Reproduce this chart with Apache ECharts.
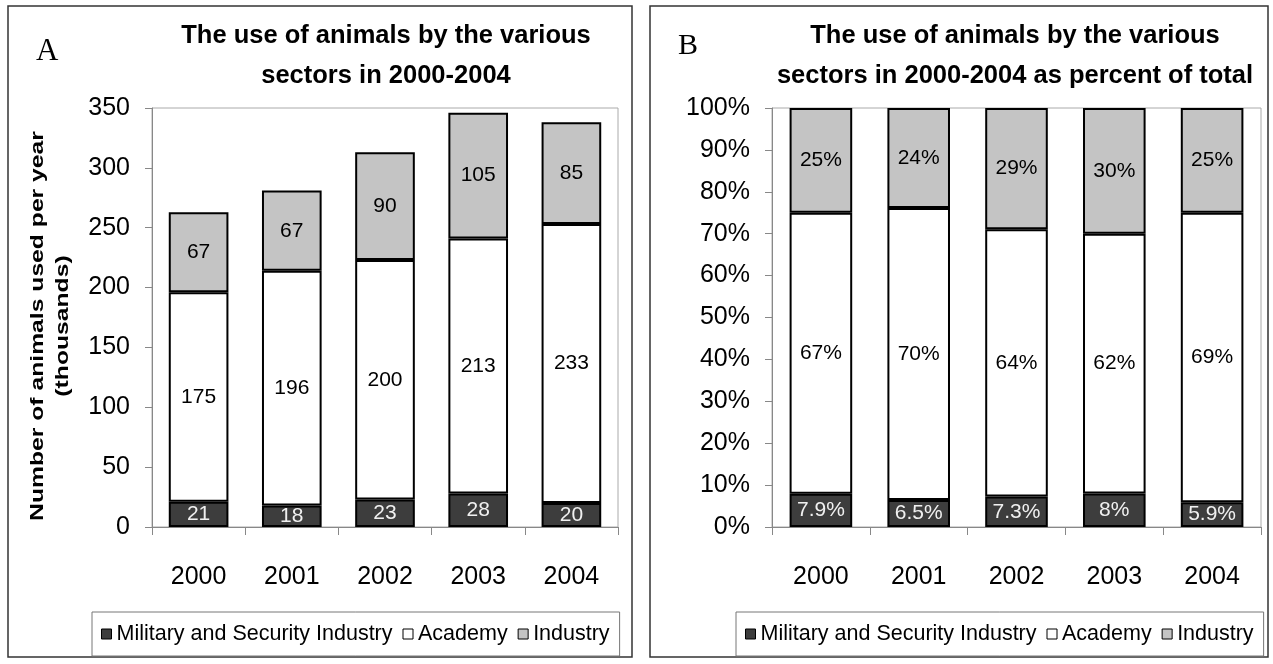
<!DOCTYPE html>
<html><head><meta charset="utf-8">
<script src="https://cdn.jsdelivr.net/npm/echarts@6/dist/echarts.min.js"></script>
<style>html,body{margin:0;padding:0;background:#fff}#c{width:1273px;height:664px}</style>
</head><body><div id="c"></div>
<script>
const years = ['2000','2001','2002','2003','2004'];
const military = [21, 18, 23, 28, 20];
const academy = [175, 196, 200, 213, 233];
const industry = [67, 67, 90, 105, 85];
const pctMilitary = [7.9, 6.5, 7.3, 8, 5.9];
const pctAcademy = [67, 70, 64, 62, 69];
const pctIndustry = [25, 24, 29, 30, 25];
const seriesNames = ['Military and Security Industry', 'Academy', 'Industry'];

const FONT = '"Liberation Sans", Arial, sans-serif';
const DARK = '#3d3d3d', LIGHT = '#c4c4c4';
const colors = [DARK, '#ffffff', LIGHT];

function norm(i) {
  const s = pctMilitary[i] + pctAcademy[i] + pctIndustry[i];
  return [pctMilitary[i] / s * 100, pctAcademy[i] / s * 100, pctIndustry[i] / s * 100];
}
const pctSets = [pctMilitary, pctAcademy, pctIndustry];
const rawSets = [military, academy, industry];

const chart = echarts.init(document.getElementById('c'), null, {renderer: 'canvas'});

function barSeries(idx, gi, data, fmt) {
  return {
    name: seriesNames[idx], type: 'bar', stack: 's' + gi,
    xAxisIndex: gi, yAxisIndex: gi, barCategoryGap: '36%',
    itemStyle: {color: colors[idx], borderColor: '#000', borderWidth: 2},
    label: {show: true, position: 'inside', fontFamily: FONT, fontSize: 21,
      color: idx === 0 ? '#f0f0f0' : '#000', formatter: fmt},
    emphasis: {disabled: true},
    data: data
  };
}

const series = [];
for (let k = 0; k < 3; k++) {
  series.push(barSeries(k, 0, rawSets[k], p => String(rawSets[k][p.dataIndex])));
}
for (let k = 0; k < 3; k++) {
  series.push(barSeries(k, 1, years.map((y, i) => norm(i)[k]), p => pctSets[k][p.dataIndex] + '%'));
}

function xAx(gi) {
  return {type: 'category', gridIndex: gi, data: years,
    axisLine: {lineStyle: {color: '#888', width: 1}},
    axisTick: {show: true, length: 8, lineStyle: {color: '#888'}},
    axisLabel: {fontFamily: FONT, fontSize: 25, color: '#000', margin: 38}};
}
function yAx(gi, max, interval, fmt) {
  return {type: 'value', gridIndex: gi, min: 0, max: max, interval: interval,
    axisLine: {show: true, lineStyle: {color: '#888', width: 1}},
    axisTick: {show: true, length: 7, lineStyle: {color: '#888'}},
    splitLine: {show: false},
    axisLabel: {fontFamily: FONT, fontSize: 25, color: '#000', margin: 22, formatter: fmt}};
}

const legendCommon = {
  orient: 'horizontal', itemWidth: 10, itemHeight: 10, itemGap: 10,
  icon: 'rect', borderColor: '#777', borderWidth: 1, padding: [11, 10, 11, 9],
  textStyle: {fontFamily: FONT, fontSize: 21.5, color: '#000'},
  itemStyle: {borderColor: '#000', borderWidth: 1},
  selectedMode: false, data: seriesNames
};

chart.setOption({
  animation: false,
  backgroundColor: '#fff',
  title: [
    {text: 'The use of animals by the various\nsectors in 2000-2004', left: 381, top: 11, textAlign: 'center',
      textStyle: {fontFamily: FONT, fontWeight: 'bold', fontSize: 25.5, lineHeight: 40, color: '#000'}},
    {text: 'The use of animals by the various\nsectors in 2000-2004 as percent of total', left: 1010, top: 11, textAlign: 'center',
      textStyle: {fontFamily: FONT, fontWeight: 'bold', fontSize: 25.5, lineHeight: 40, color: '#000'}}
  ],
  grid: [
    {left: 152, top: 108, width: 466, height: 419, show: true, borderColor: '#aaa', borderWidth: 1, backgroundColor: 'transparent'},
    {left: 772, top: 108, width: 489, height: 419, show: true, borderColor: '#aaa', borderWidth: 1, backgroundColor: 'transparent'}
  ],
  xAxis: [xAx(0), xAx(1)],
  yAxis: [yAx(0, 350, 50, '{value}'), yAx(1, 100, 10, '{value}%')],
  legend: [
    Object.assign({}, legendCommon, {left: 92, top: 612}),
    Object.assign({}, legendCommon, {left: 736, top: 612})
  ],
  graphic: [
    {type: 'rect', shape: {x: 8, y: 6, width: 624, height: 651}, style: {fill: 'none', stroke: '#333', lineWidth: 1.5}, silent: true, z: -1},
    {type: 'rect', shape: {x: 650, y: 6, width: 618, height: 651}, style: {fill: 'none', stroke: '#333', lineWidth: 1.5}, silent: true, z: -1},
    {type: 'text', x: 36, y: 36, style: {text: 'A', font: '31px "Liberation Serif", "Times New Roman", serif', fill: '#000'}},
    {type: 'text', x: 678, y: 31, style: {text: 'B', font: '30px "Liberation Serif", "Times New Roman", serif', fill: '#000'}},
    {type: 'text', x: 50, y: 326, rotation: Math.PI / 2, scaleX: 1.3,
      style: {text: 'Number of animals used per year\n(thousands)', font: 'bold 19px "Liberation Sans", Arial, sans-serif',
        fill: '#000', align: 'center', verticalAlign: 'middle', lineHeight: 25}}
  ],
  series: series
});
</script></body></html>
